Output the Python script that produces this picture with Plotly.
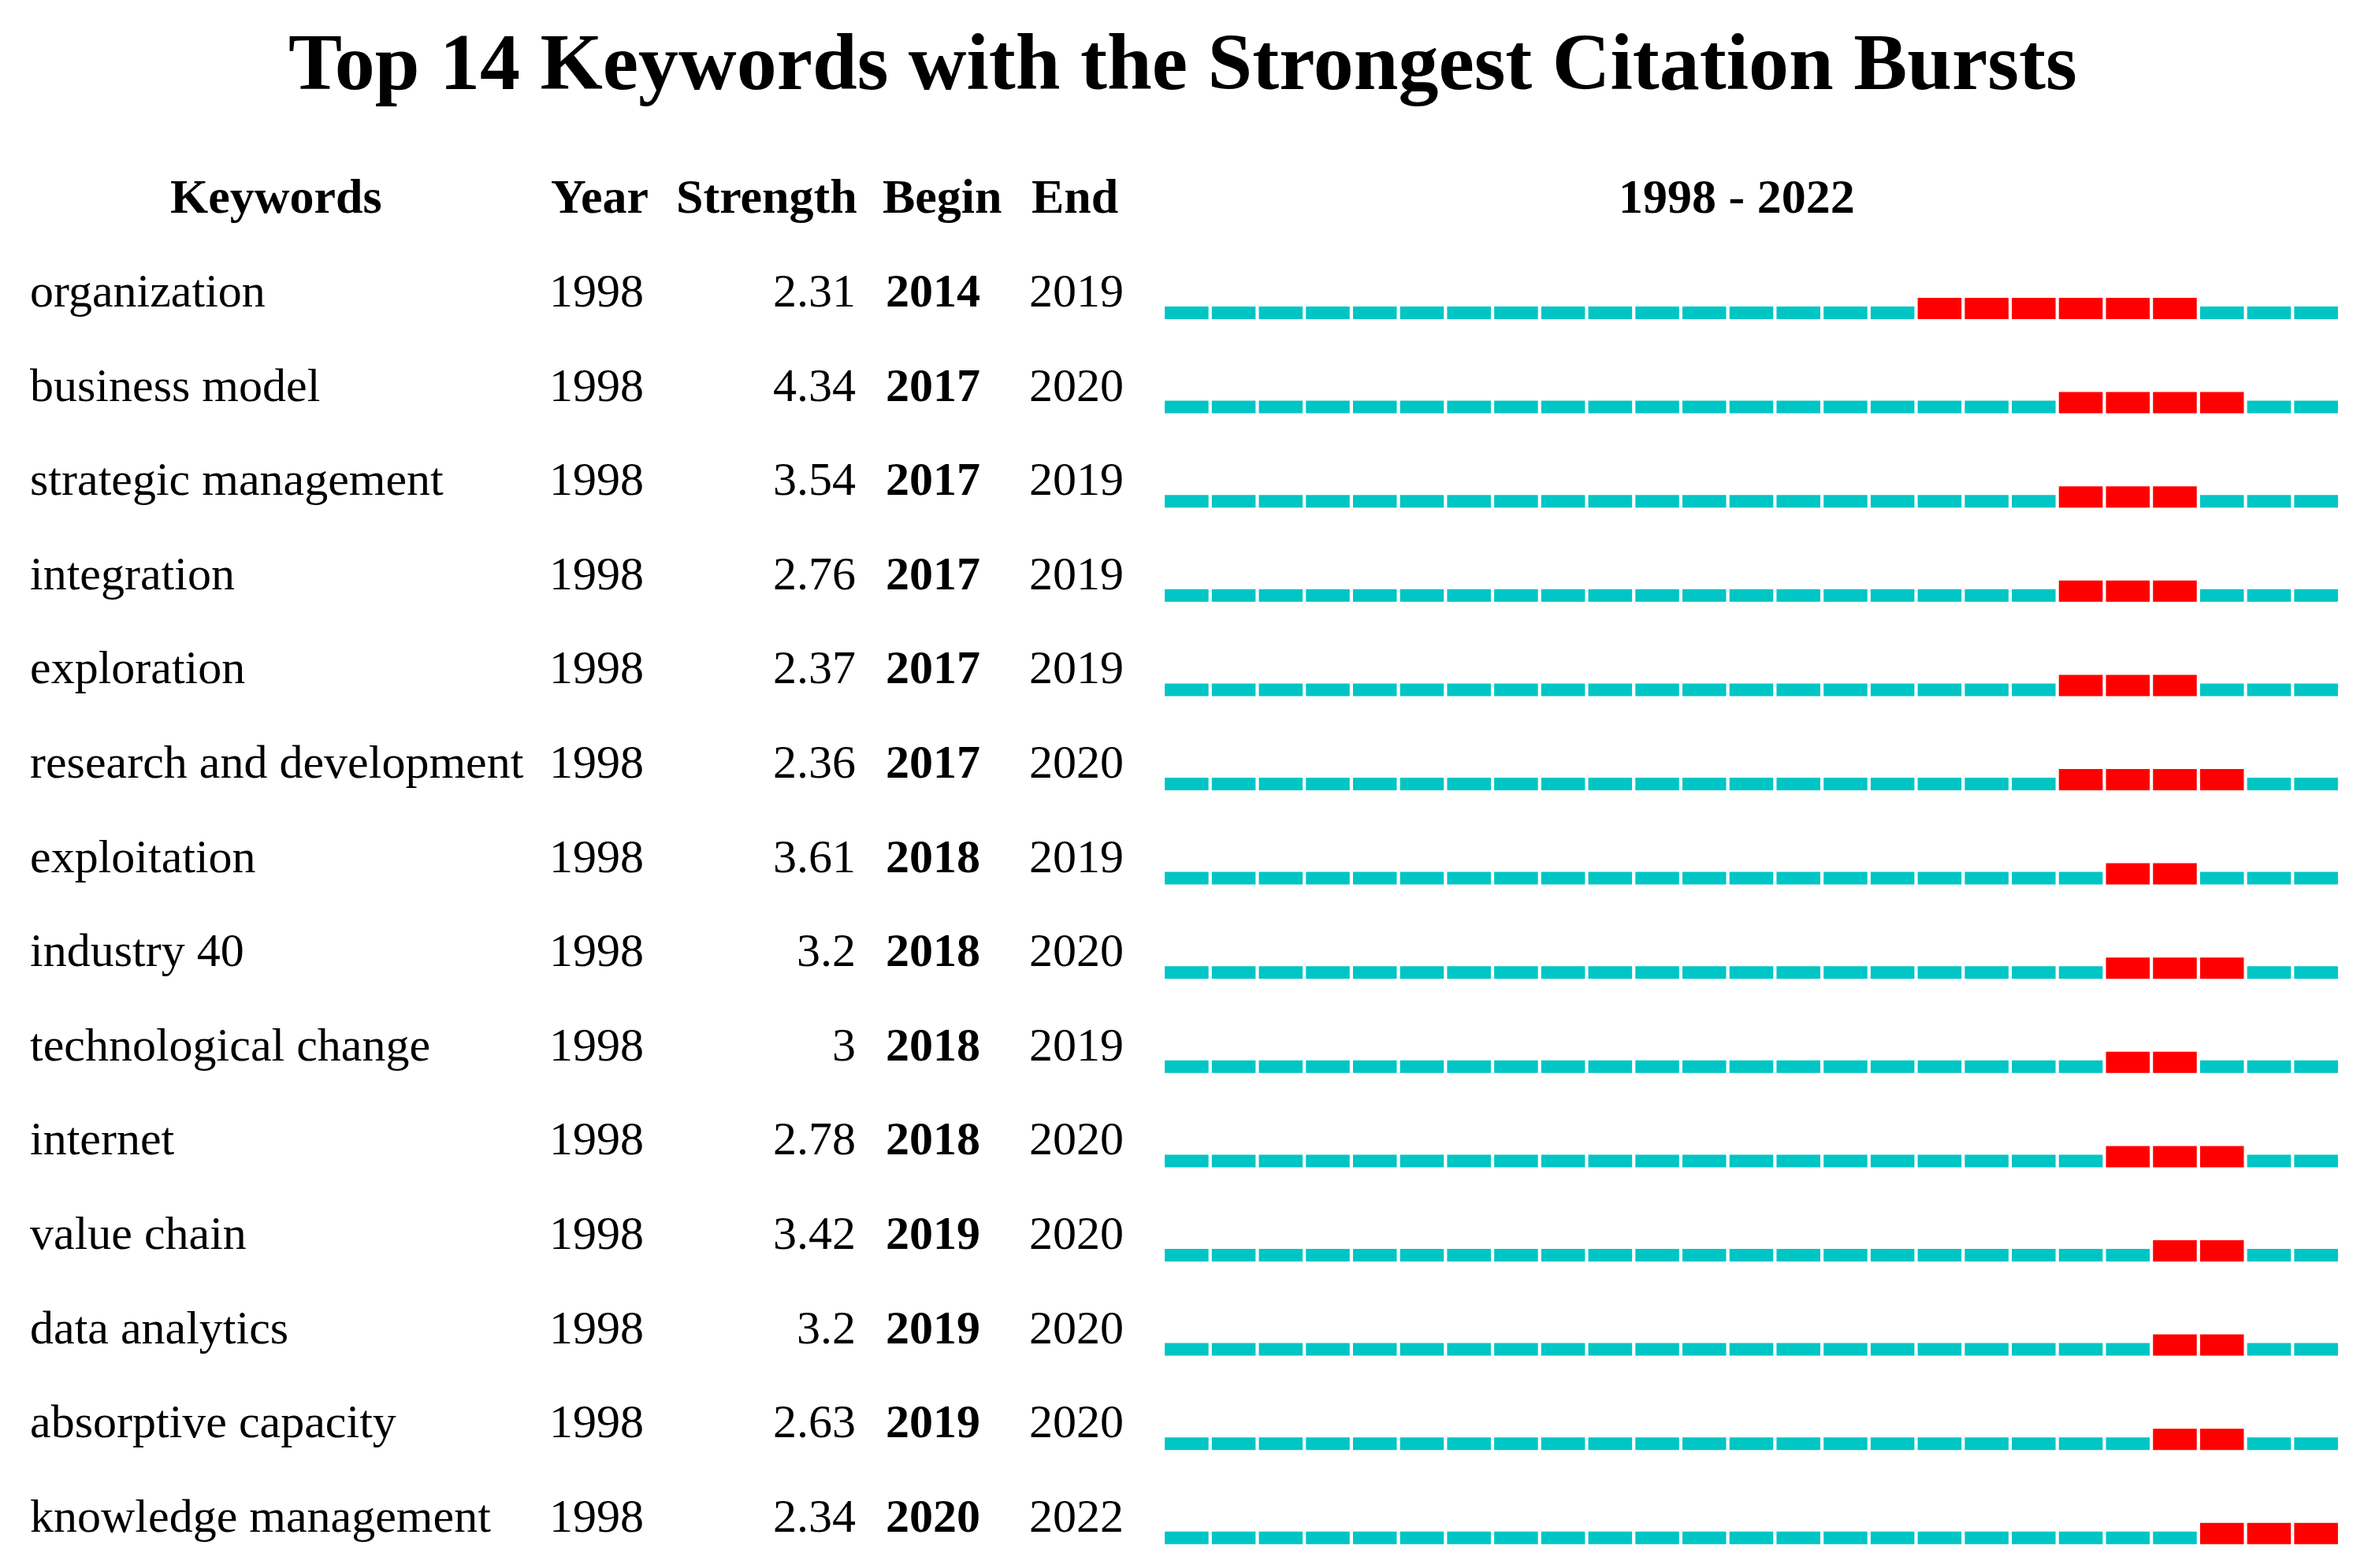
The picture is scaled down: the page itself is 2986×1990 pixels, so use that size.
import plotly.graph_objects as go

keywords = ["organization","business model","strategic management","integration","exploration",
            "research and development","exploitation","industry 40","technological change","internet",
            "value chain","data analytics","absorptive capacity","knowledge management"]
years = [1998]*14
strength = ["2.31","4.34","3.54","2.76","2.37","2.36","3.61","3.2","3","2.78","3.42","3.2","2.63","2.34"]
begin = [2014,2017,2017,2017,2017,2017,2018,2018,2018,2018,2019,2019,2019,2020]
end = [2019,2020,2019,2019,2019,2020,2019,2020,2019,2020,2020,2020,2020,2022]
start_year, end_year = 1998, 2022

W, H = 2986, 1990
row0, step = 389, 119.6
gap = 0.07
FONT = "Liberation Serif, Times New Roman, serif"

fig = go.Figure()
cy_y, cy_b, rd_y, rd_b = [], [], [], []
for i in range(len(keywords)):
    yy = row0 + i*step
    for yr in range(start_year, end_year+1):
        if begin[i] <= yr <= end[i]:
            rd_y.append(yy); rd_b.append(yr-0.5+gap/2)
        else:
            cy_y.append(yy); cy_b.append(yr-0.5+gap/2)
fig.add_trace(go.Bar(orientation="h", y=cy_y, x=[1-gap]*len(cy_y), base=cy_b, width=16, offset=-8,
                     marker=dict(color="#00C5C5", line=dict(width=0)), xaxis="x2", yaxis="y", hoverinfo="skip"))
fig.add_trace(go.Bar(orientation="h", y=rd_y, x=[1-gap]*len(rd_y), base=rd_b, width=27, offset=-19,
                     marker=dict(color="#FF0000", line=dict(width=0)), xaxis="x2", yaxis="y", hoverinfo="skip"))
# invisible trace to anchor the pixel x axis
fig.add_trace(go.Scatter(x=[0, W], y=[0, H], mode="markers", marker=dict(opacity=0), xaxis="x", yaxis="y", hoverinfo="skip"))

ann = []
def t(x, y, s, size=60, bold=False, xanchor="left"):
    ann.append(dict(x=x, y=y, xref="x", yref="y", text=f"<b>{s}</b>" if bold else s, showarrow=False,
                    xanchor=xanchor, yanchor="middle", font=dict(family=FONT, size=size, color="black")))

ann.append(dict(x=0.5, y=70, xref="paper", yref="y", text="<b>Top 14 Keywords with the Strongest Citation Bursts</b>",
                showarrow=False, xanchor="center", yanchor="middle", font=dict(family=FONT, size=102, color="black")))
hy = 241
t(342, hy, "Keywords", 62, True, "center")
t(753, hy, "Year", 62, True, "center")
t(965, hy, "Strength", 62, True, "center")
t(1188, hy, "Begin", 62, True, "center")
t(1356, hy, "End", 62, True, "center")
t(2196, hy, f"{start_year} - {end_year}", 62, True, "center")
for i in range(len(keywords)):
    yy = row0 + i*step - 28
    t(28, yy, keywords[i])
    t(687, yy, str(years[i]))
    t(1080, yy, strength[i], xanchor="right")
    t(1114, yy, str(begin[i]), bold=True)
    t(1296, yy, str(end[i]))

fig.update_layout(width=W, height=H, margin=dict(l=0, r=0, t=0, b=0), plot_bgcolor="white", paper_bgcolor="white",
                  showlegend=False, barmode="overlay", annotations=ann,
                  xaxis=dict(range=[0, W], domain=[0, 1], visible=False, fixedrange=True),
                  xaxis2=dict(range=[start_year-0.5, end_year+0.5], domain=[1468/W, 2961/W], visible=False,
                              anchor="y"),
                  yaxis=dict(range=[H, 0], visible=False))
fig.write_html("out.html")
